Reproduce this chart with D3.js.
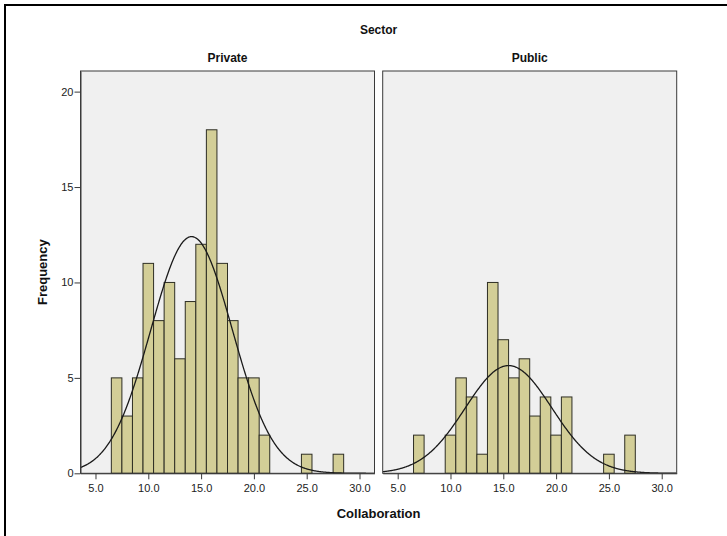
<!DOCTYPE html>
<html>
<head>
<meta charset="utf-8">
<script src="https://cdn.jsdelivr.net/npm/d3@7/dist/d3.min.js"></script>
<style>
  body { margin: 0; background: #fff; }
  svg { display: block; font-family: "Liberation Sans", Arial, sans-serif; }
</style>
</head>
<body>
<svg id="chart" width="727" height="536"></svg>
<script>
// Histogram bins (bin centres, width 1) and counts per sector
const panels = ["Private", "Public"];
const privateBins   = [7, 8, 9, 10, 11, 12, 13, 14, 15, 16, 17, 18, 19, 20, 21, 25, 28];
const privateCounts = [5, 3, 5, 11, 8, 10, 6, 9, 12, 18, 11, 8, 5, 5, 2, 1, 1];
const publicBins    = [7, 10, 11, 12, 13, 14, 15, 16, 17, 18, 19, 20, 21, 25, 27];
const publicCounts  = [2, 2, 5, 4, 1, 10, 7, 5, 6, 3, 4, 2, 4, 1, 2];
// Fitted normal curve parameters (mean, std. deviation)
const privateNormal = { mean: 14.1, sd: 3.86 };
const publicNormal  = { mean: 15.5, sd: 4.1 };
const xTicks = [5, 10, 15, 20, 25, 30];
const yTicks = [0, 5, 10, 15, 20];

const svg = d3.select("#chart");

const W = 294, plotTop = 71, plotBottom = 473.3;
const panelLeft = [80.5, 382.7];
const xDomain = [3.58, 31.42];
const yDomain = [0, 21.08];
const binWidth = 1;

// Outer frame (top and left rules)
svg.append("line").attr("x1", 4).attr("x2", 727).attr("y1", 5).attr("y2", 5)
  .attr("stroke", "#000").attr("stroke-width", 2);
svg.append("line").attr("x1", 5).attr("x2", 5).attr("y1", 4).attr("y2", 536)
  .attr("stroke", "#000").attr("stroke-width", 2);

const y = d3.scaleLinear().domain(yDomain).range([plotBottom, plotTop]);

const series = [
  { name: panels[0], bins: privateBins, counts: privateCounts, fit: privateNormal },
  { name: panels[1], bins: publicBins, counts: publicCounts, fit: publicNormal }
];

series.forEach((s, i) => {
  const x0 = panelLeft[i];
  const x = d3.scaleLinear().domain(xDomain).range([x0, x0 + W]);
  const g = svg.append("g");

  // panel background
  g.append("rect").attr("x", x0).attr("y", plotTop).attr("width", W).attr("height", plotBottom - plotTop)
    .attr("fill", "#f0f0f0");

  const clipId = "clip" + i;
  svg.append("clipPath").attr("id", clipId).append("rect")
    .attr("x", x0).attr("y", plotTop).attr("width", W).attr("height", plotBottom - plotTop);

  // bars
  const data = s.bins.map((b, j) => ({ b, c: s.counts[j] }));
  g.selectAll("rect.bar").data(data).join("rect").attr("class", "bar")
    .attr("x", d => x(d.b - binWidth / 2))
    .attr("width", d => x(d.b + binWidth / 2) - x(d.b - binWidth / 2))
    .attr("y", d => y(d.c))
    .attr("height", d => y(0) - y(d.c))
    .attr("fill", "#d3ce97")
    .attr("stroke", "#2e2e24")
    .attr("stroke-width", 1);

  // normal curve
  const n = d3.sum(s.counts);
  const pdf = v => n * binWidth / (s.fit.sd * Math.sqrt(2 * Math.PI)) *
    Math.exp(-((v - s.fit.mean) ** 2) / (2 * s.fit.sd ** 2));
  const pts = d3.range(xDomain[0], xDomain[1] + 0.01, 0.05).map(v => [v, pdf(v)]);
  g.append("path")
    .attr("clip-path", `url(#${clipId})`)
    .attr("d", d3.line().x(d => x(d[0])).y(d => y(d[1])).curve(d3.curveBasis)(pts))
    .attr("fill", "none").attr("stroke", "#1a1a1a").attr("stroke-width", 1.3);

  // panel border
  g.append("rect").attr("x", x0).attr("y", plotTop).attr("width", W).attr("height", plotBottom - plotTop)
    .attr("fill", "none").attr("stroke", "#3a3a3a").attr("stroke-width", 1);

  // x axis
  const xa = g.append("g").attr("transform", `translate(0,${plotBottom})`)
    .call(d3.axisBottom(x).tickValues(xTicks).tickFormat(d3.format(".1f")).tickSize(6).tickSizeOuter(0));
  xa.select(".domain").attr("stroke", "#3a3a3a");
  xa.selectAll(".tick line").attr("stroke", "#3a3a3a");
  xa.selectAll("text").attr("font-size", 11).attr("fill", "#222").attr("dy", "0.9em")
    .attr("font-family", "Liberation Sans, Arial, sans-serif");

  // panel title
  svg.append("text").attr("x", x0 + W / 2).attr("y", 62).attr("text-anchor", "middle")
    .attr("font-size", 12).attr("font-weight", "bold").attr("fill", "#111").text(s.name);
});

// y axis on the left panel
const ya = svg.append("g").attr("transform", `translate(${panelLeft[0]},0)`)
  .call(d3.axisLeft(y).tickValues(yTicks).tickSize(6).tickSizeOuter(0));
ya.select(".domain").attr("stroke", "#3a3a3a");
ya.selectAll(".tick line").attr("stroke", "#3a3a3a");
ya.selectAll("text").attr("font-size", 11).attr("fill", "#222").attr("x", -7)
  .attr("font-family", "Liberation Sans, Arial, sans-serif");

// titles
const mid = (panelLeft[0] + panelLeft[1] + W) / 2;
svg.append("text").attr("x", mid).attr("y", 34).attr("text-anchor", "middle")
  .attr("font-size", 12).attr("font-weight", "bold").attr("fill", "#111").text("Sector");
svg.append("text").attr("x", mid).attr("y", 518).attr("text-anchor", "middle")
  .attr("font-size", 13).attr("font-weight", "bold").attr("fill", "#111").text("Collaboration");
svg.append("text").attr("transform", `translate(47,${(plotTop + plotBottom) / 2}) rotate(-90)`)
  .attr("text-anchor", "middle")
  .attr("font-size", 13).attr("font-weight", "bold").attr("fill", "#111").text("Frequency");
</script>
</body>
</html>
